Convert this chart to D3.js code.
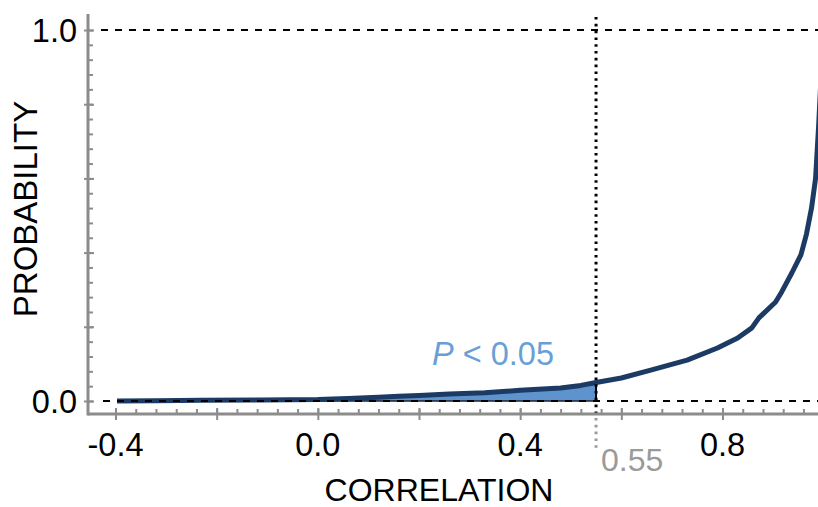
<!DOCTYPE html>
<html>
<head>
<meta charset="utf-8">
<script src="https://cdn.jsdelivr.net/npm/d3@7"></script>
<style>
  html, body { margin: 0; padding: 0; background: #fff; }
  svg { display: block; font-family: "Liberation Sans", Arial, sans-serif; }
</style>
</head>
<body>
<svg id="chart" width="818" height="507"></svg>
<script>
// Cumulative probability of the correlation coefficient
const correlation = [-0.397, -0.32, -0.23, -0.11, 0.0, 0.06, 0.12, 0.16, 0.2, 0.26, 0.33, 0.4, 0.48, 0.52, 0.55,
                     0.6, 0.66, 0.73, 0.79, 0.83, 0.858, 0.872, 0.905, 0.917, 0.937, 0.955, 0.966, 0.976, 0.984, 0.99, 0.995, 1.0];
const probability = [0, 0.001, 0.002, 0.003, 0.004, 0.007, 0.010, 0.013, 0.015, 0.019, 0.022, 0.029, 0.035, 0.042, 0.05,
                     0.062, 0.084, 0.11, 0.143, 0.17, 0.197, 0.224, 0.267, 0.294, 0.345, 0.394, 0.45, 0.52, 0.6, 0.74, 0.88, 1.0];
const threshold = 0.55;
const xTickLabels = [-0.4, 0.0, 0.4, 0.8];
const yTickLabels = [0.0, 1.0];

const points = correlation.map((c, i) => ({ c, p: probability[i] }));

const svg = d3.select("#chart");
const x = d3.scaleLinear().domain([-0.4, 0.8]).range([115.5, 722.5]);
const y = d3.scaleLinear().domain([0, 1]).range([401, 30]);

const axisColor = "#8c8c8c";
const curveColor = "#1b3a64";
const fillColor = "#5f93cd";
const axisY = 414;

// shaded region below the significance threshold
const shaded = points.filter(d => d.c <= threshold);
svg.append("path")
  .datum(shaded)
  .attr("fill", fillColor)
  .attr("d", d3.area().x(d => x(d.c)).y0(y(0)).y1(d => y(d.p)));
svg.append("line")
  .attr("x1", x(correlation[0])).attr("x2", x(threshold))
  .attr("y1", y(0)).attr("y2", y(0))
  .attr("stroke", "#1a2230").attr("stroke-width", 1.5);
svg.append("line")
  .attr("x1", x(threshold)).attr("x2", x(threshold))
  .attr("y1", y(0)).attr("y2", y(probability[correlation.indexOf(threshold)]))
  .attr("stroke", "#000").attr("stroke-width", 2);

// probability curve
svg.append("path")
  .datum(points)
  .attr("fill", "none")
  .attr("stroke", curveColor)
  .attr("stroke-width", 5)
  .attr("stroke-linejoin", "round")
  .attr("d", d3.line().x(d => x(d.c)).y(d => y(d.p)));

// reference lines at 0 and 1
svg.append("g").selectAll("line")
  .data([1.0, 0.0])
  .join("line")
  .attr("x1", (d, i) => i === 0 ? 101 : 103).attr("x2", 818)
  .attr("y1", d => y(d)).attr("y2", d => y(d))
  .attr("stroke", "#000").attr("stroke-width", 2)
  .attr("stroke-dasharray", "7,7");

// threshold marker
svg.append("line")
  .attr("x1", x(threshold)).attr("x2", x(threshold))
  .attr("y1", 17).attr("y2", axisY)
  .attr("stroke", "#000").attr("stroke-width", 3)
  .attr("stroke-dasharray", "2.6,4.2");
svg.append("line")
  .attr("x1", x(threshold)).attr("x2", x(threshold))
  .attr("y1", axisY + 4).attr("y2", 452)
  .attr("stroke", "#9a9a9a").attr("stroke-width", 3)
  .attr("stroke-dasharray", "2.6,4.2");

// axes
const xMinor = d3.range(-0.4, 1.0001, 0.04).map(v => +v.toFixed(2));
const xMajor = d3.range(-0.4, 1.0001, 0.2).map(v => +v.toFixed(2));
const yMinor = d3.range(0, 1.0001, 0.04).map(v => +v.toFixed(2));
const yMajor = d3.range(0, 1.0001, 0.2).map(v => +v.toFixed(2));

const gx = svg.append("g");
gx.append("g")
  .attr("transform", `translate(0,${axisY})`)
  .call(d3.axisBottom(x).tickValues(xMinor).tickSize(-5).tickFormat(""))
  .call(g => g.select(".domain").remove());
gx.append("g")
  .attr("transform", `translate(0,${axisY})`)
  .call(d3.axisBottom(x).tickValues(xMajor).tickSize(6).tickFormat(""))
  .call(g => g.select(".domain").remove())
  .call(g => g.selectAll(".tick line").attr("y1", -6));
gx.selectAll(".tick line").attr("stroke", axisColor).attr("stroke-width", 2);
gx.append("line")
  .attr("x1", 88).attr("x2", 818).attr("y1", axisY).attr("y2", axisY)
  .attr("stroke", axisColor).attr("stroke-width", 3);

const gy = svg.append("g");
gy.append("g")
  .attr("transform", "translate(88,0)")
  .call(d3.axisLeft(y).tickValues(yMinor).tickSize(-5).tickFormat(""))
  .call(g => g.select(".domain").remove());
gy.append("g")
  .attr("transform", "translate(88,0)")
  .call(d3.axisLeft(y).tickValues(yMajor).tickSize(4).tickFormat(""))
  .call(g => g.select(".domain").remove())
  .call(g => g.selectAll(".tick line").attr("x1", 6));
gy.selectAll(".tick line").attr("stroke", axisColor).attr("stroke-width", 2);
gy.append("line")
  .attr("x1", 88).attr("x2", 88).attr("y1", 14).attr("y2", axisY + 1.5)
  .attr("stroke", axisColor).attr("stroke-width", 3);

// tick labels
const fmt = d3.format(".1f");
svg.append("g").selectAll("text")
  .data(xTickLabels)
  .join("text")
  .attr("x", d => x(d)).attr("y", 456)
  .attr("text-anchor", "middle")
  .attr("font-size", 32.5)
  .attr("fill", "#000")
  .text(d => d < 0 ? "-" + fmt(-d) : fmt(d));
svg.append("g").selectAll("text")
  .data(yTickLabels)
  .join("text")
  .attr("x", 77).attr("y", d => y(d) + 12)
  .attr("text-anchor", "end")
  .attr("font-size", 32.5)
  .attr("fill", "#000")
  .text(d => fmt(d));

// threshold value
svg.append("text")
  .attr("x", 601).attr("y", 471)
  .attr("font-size", 32)
  .attr("fill", "#9a9a9a")
  .text(String(threshold));

// significance annotation
const ann = svg.append("text")
  .attr("x", 432).attr("y", 365)
  .attr("font-size", 32.5)
  .attr("fill", "#6a9fd6");
ann.append("tspan").attr("font-style", "italic").text("P");
ann.append("tspan").text(" < 0.05");

// axis titles
svg.append("text")
  .attr("x", 439).attr("y", 501)
  .attr("text-anchor", "middle")
  .attr("font-size", 32)
  .attr("fill", "#000")
  .text("CORRELATION");
svg.append("text")
  .attr("transform", "translate(37,209) rotate(-90)")
  .attr("text-anchor", "middle")
  .attr("font-size", 33)
  .attr("fill", "#000")
  .text("PROBABILITY");
</script>
</body>
</html>
